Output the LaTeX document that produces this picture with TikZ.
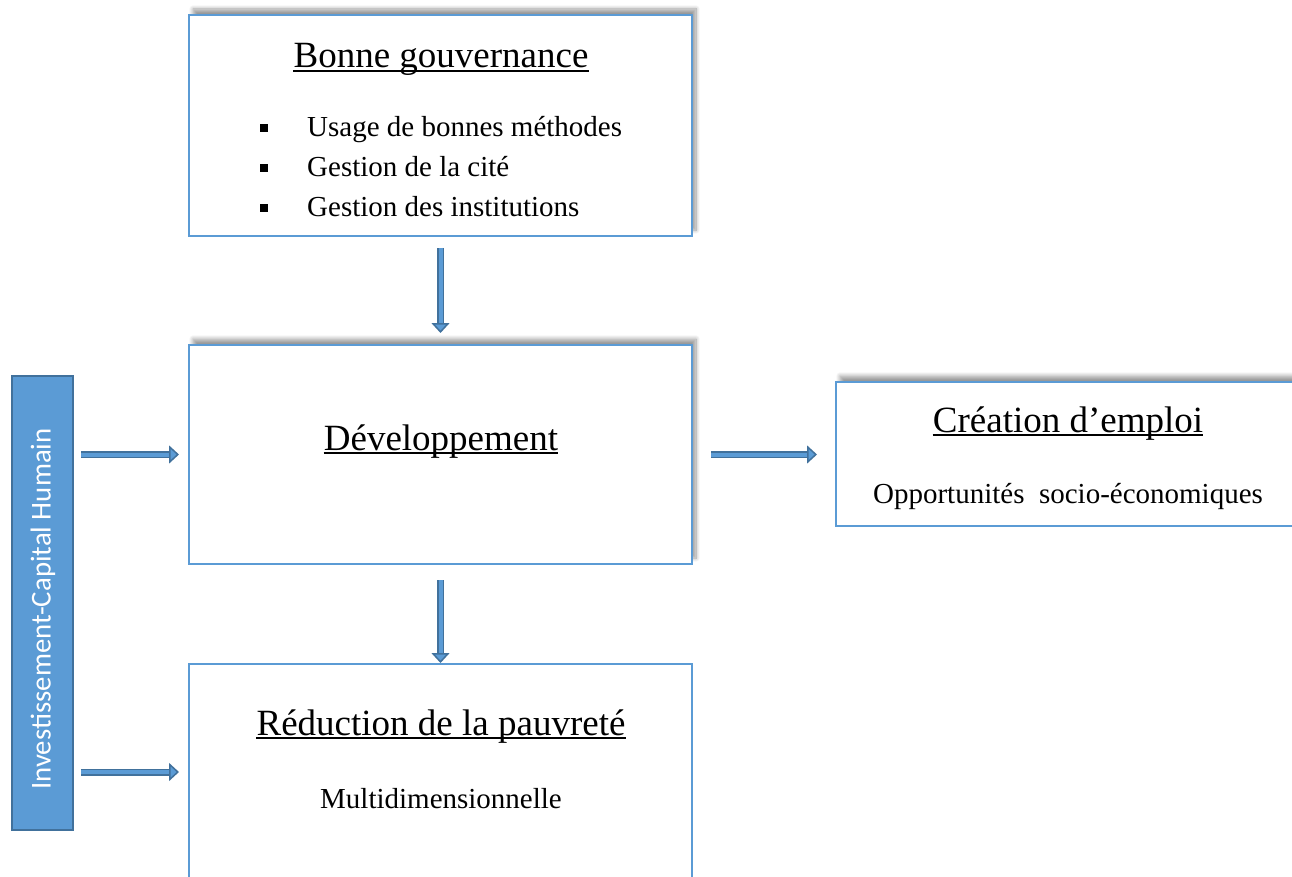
\documentclass[tikz,border=0pt]{standalone}
\usepackage{fontspec}
\setmainfont{Liberation Serif}
\newfontfamily\barfont{Carlito}
\usetikzlibrary{arrows.meta,shadows.blur}
\definecolor{boxblue}{HTML}{5B9BD5}
\definecolor{edgeblue}{HTML}{41719C}

\begin{document}
\begin{tikzpicture}[x=1pt,y=-1pt,
    box/.style={draw=boxblue, line width=2pt, fill=white, inner sep=0pt},
    shadebox/.style={box, blur shadow={shadow xshift=4pt, shadow yshift=6pt, shadow blur steps=10, shadow blur radius=4pt, shadow opacity=40}},
    title/.style={anchor=base, inner sep=0pt, font=\fontsize{37}{44}\selectfont},
    body/.style={anchor=base, inner sep=0pt, font=\fontsize{29}{35}\selectfont},
    uline/.style={line width=1.6pt},
    flow/.style={draw=edgeblue, double=boxblue, line width=1.5pt, double distance=4pt,
        -{Triangle[width=18pt,length=10pt,fill=boxblue]}}]
\useasboundingbox (0,0) rectangle (1292,877);

% Boxes
\node[shadebox, minimum width=503pt, minimum height=221pt] (gov) at (440.5,125.5) {};
\node[shadebox, minimum width=503pt, minimum height=219pt] (dev) at (440.5,454.5) {};
\node[shadebox, minimum width=464pt, minimum height=144pt] (job) at (1068,454) {};
\node[box, minimum width=503pt, minimum height=216pt] (pov) at (440.5,772) {};
\node[draw=edgeblue, fill=boxblue, line width=2pt, minimum width=61pt, minimum height=454pt] (bar) at (42.5,603) {};

% Titles
\node[title] (govtitle) at (441,68) {Bonne gouvernance};
\node[title] (devtitle) at (441,450) {Développement};
\node[title] (jobtitle) at (1068,432) {Création d’emploi};
\node[title] (povtitle) at (441,735) {Réduction de la pauvreté};
\foreach \t in {govtitle,devtitle,jobtitle,povtitle}
    \draw[uline] ([yshift=-3pt]\t.base west) -- ([yshift=-3pt]\t.base east);

% Bullet list
\foreach \txt [count=\i] in {Usage de bonnes méthodes, Gestion de la cité, Gestion des institutions} {
    \node[body, anchor=base west] (item\i) at (307,{97+40*\i}) {\txt};
    \fill (260,{84+40*\i}) rectangle ++(8,8);
}

% Other texts
\node[body] (jobtext) at (1068,503) {Opportunités\ \ socio-économiques};
\node[body] (povtext) at (441,808) {Multidimensionnelle};
\node[rotate=90, text=white, font=\barfont\fontsize{28.8}{34}\selectfont] (bartext) at (43,609) {Investissement-Capital Humain};

% Arrows
\draw[flow, shorten <=11pt, shorten >=11pt] (gov) -- (dev);
\draw[flow, shorten <=15pt] (dev) -- (pov);
\draw[flow, shorten <=18pt, shorten >=18pt] (dev.east) -- (dev.east -| job.west);
\draw[flow, shorten <=7pt, shorten >=9pt] (bar.east |- dev.west) -- (dev.west);
\draw[flow, shorten <=7pt, shorten >=9pt] (bar.east |- pov.west) -- (pov.west);
\end{tikzpicture}
\end{document}
